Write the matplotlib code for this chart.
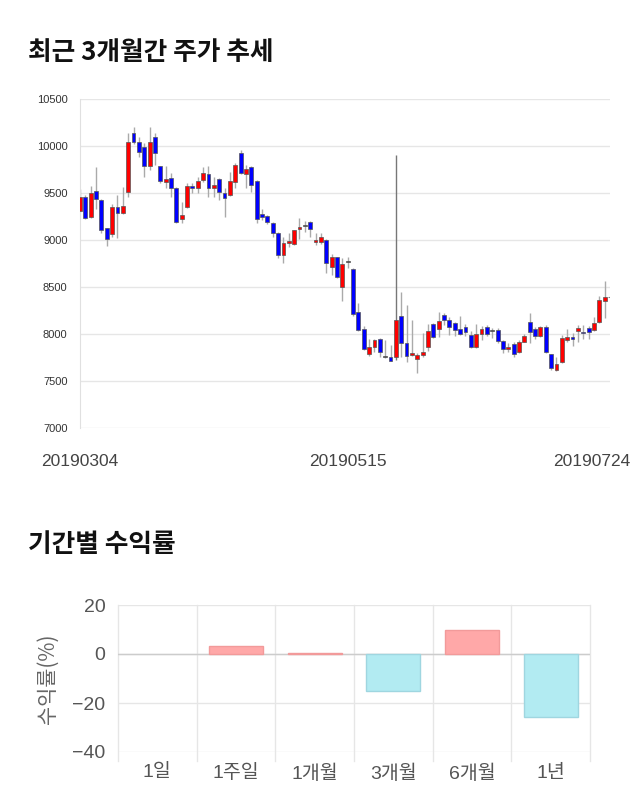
import matplotlib
matplotlib.use("Agg")
import matplotlib.pyplot as plt
import matplotlib.transforms as mtrans

plt.rcParams['font.family'] = ['Noto Sans CJK KR', 'DejaVu Sans']

# candle data, one entry per trading day
opens = [9312, 9454, 9241, 9518, 9425, 9124, 9064, 9348, 9290, 9514,
         10142, 10043, 9986, 9790, 10099, 9787, 9620, 9656, 9550, 9223,
         9354, 9574, 9553, 9641, 9705, 9556, 9646, 9497, 9479, 9620,
         9929, 9702, 9773, 9628, 9273, 9255, 9177, 9078, 8837, 8965,
         8957, 9113, 9149, 9195, 8975, 8975, 9000, 8716, 8816, 8497,
         8765, 8691, 8237, 8049, 7787, 7865, 7947, 7758, 7752, 7752,
         8191, 7908, 7780, 7734, 7776, 7865, 8106, 8053, 8202, 8149,
         8120, 8057, 8071, 7989, 7858, 8000, 8078, 8032, 8039, 7929,
         7837, 7893, 7812, 7918, 8131, 8050, 7979, 8078, 7783, 7617,
         7705, 7936, 7964, 8035, 8025, 8060, 8042, 8131, 8354, 8390]
highs = [9540, 9480, 9570, 9775, 9440, 9130, 9380, 9479, 9567, 10142,
         10199, 10100, 10030, 10199, 10135, 9790, 9787, 9709, 9560, 9408,
         9610, 9610, 9667, 9773, 9787, 9667, 9660, 9550, 9727, 9816,
         9957, 9798, 9790, 9640, 9327, 9270, 9190, 9085, 9029, 9071,
         9110, 9231, 9205, 9200, 9071, 9071, 9010, 8851, 8820, 8805,
         8816, 8700, 8326, 8085, 7947, 7950, 7955, 7936, 7883, 9904,
         8450, 8308, 8149, 7800, 8007, 8106, 8120, 8234, 8220, 8180,
         8130, 8191, 8110, 8030, 8106, 8090, 8095, 8060, 8060, 7935,
         7900, 7920, 7940, 8000, 8220, 8070, 8090, 8100, 7790, 7758,
         7990, 8050, 8010, 8095, 8100, 8080, 8184, 8404, 8567, 8400]
lows = [9300, 9220, 9230, 9330, 9074, 8936, 9029, 9018, 9280, 9454,
        10020, 9886, 9667, 9745, 9798, 9610, 9550, 9461, 9180, 9178,
        9337, 9503, 9497, 9620, 9454, 9454, 9425, 9241, 9470, 9550,
        9700, 9550, 9514, 9184, 9213, 9170, 9029, 8805, 8752, 8929,
        8950, 9007, 9088, 9035, 8947, 8960, 8652, 8627, 8600, 8354,
        8698, 8191, 8030, 7830, 7770, 7812, 7758, 7740, 7716, 7723,
        7760, 7698, 7770, 7588, 7760, 7820, 7960, 7965, 8095, 7989,
        7980, 7990, 7980, 7850, 7850, 7936, 7980, 7954, 7900, 7794,
        7810, 7758, 7800, 7910, 7900, 7950, 7970, 7800, 7620, 7610,
        7690, 7910, 7872, 7920, 7950, 7950, 8030, 8120, 8166, 8380]
closes = [9454, 9231, 9497, 9440, 9106, 9007, 9348, 9290, 9362, 10046,
          10043, 9939, 9790, 10043, 9922, 9628, 9649, 9550, 9195, 9266,
          9574, 9553, 9624, 9713, 9553, 9585, 9514, 9443, 9631, 9798,
          9709, 9752, 9585, 9223, 9248, 9195, 9071, 8837, 8965, 8993,
          9106, 9135, 9149, 9121, 8997, 9029, 8752, 8816, 8603, 8744,
          8765, 8212, 8042, 7837, 7865, 7936, 7812, 7758, 7716, 8149,
          7900, 7769, 7801, 7780, 7808, 8032, 7971, 8138, 8149, 8077,
          8042, 7996, 8025, 7858, 8000, 8050, 8000, 8032, 7929, 7837,
          7865, 7783, 7918, 7979, 8025, 7979, 8071, 7812, 7634, 7677,
          7954, 7971, 7950, 8060, 8007, 8018, 8120, 8361, 8390, 8390]
date_labels = ["20190304", "20190515", "20190724"]
date_index = [0, 50, 99]

# returns per period
periods = ["1일", "1주일", "1개월", "3개월", "6개월", "1년"]
returns = [0.0, 3.4, 0.4, -15.0, 9.8, -25.6]

num_font = ['Liberation Sans', 'Noto Sans CJK KR']

fig = plt.figure(figsize=(6.4, 8.1), dpi=100)

# ---------------- candle chart ----------------
fig.text(28 / 640, 1 - 53 / 810, "최근 3개월간 주가 추세", fontsize=18.5, fontweight='bold',
         va='center', ha='left', color='#111111')

ax = fig.add_axes([80 / 640, 1 - 428 / 810, 530 / 640, 329 / 810])
n = len(opens)
xs = list(range(n))
for i in xs:
    o, h, l, c = opens[i], highs[i], lows[i], closes[i]
    wick_col = '#777777' if i == 59 else '#aaaaaa'
    ax.vlines(i, l, h, color=wick_col, linewidth=1, zorder=2)
    if c > o:
        col = '#ff0000'
    elif c < o:
        col = '#0000ff'
    else:
        col = '#333333'
    bottom = min(o, c)
    height = max(abs(c - o), 8)
    ax.bar(i, height, bottom=bottom, width=0.72, color=col, edgecolor='#555555',
           linewidth=0.5, zorder=3)

ax.set_xlim(0, n - 1)
ax.set_ylim(7000, 10500)
ax.set_yticks([7000, 7500, 8000, 8500, 9000, 9500, 10000, 10500])
ax.tick_params(axis='y', labelsize=8, colors='#333333', length=0, pad=9)
ax.set_xticks(date_index)
ax.set_xticklabels(date_labels)
ax.tick_params(axis='x', labelsize=12.5, colors='#444444', length=0, pad=19)
for t in ax.get_yticklabels() + ax.get_xticklabels():
    t.set_family(num_font)
xt = ax.get_xticklabels()
xt[-1].set_ha('right')
xt[-1].set_transform(xt[-1].get_transform() + mtrans.ScaledTranslation(20 / 100, 0, fig.dpi_scale_trans))
ax.grid(axis='y', color='#e6e6e6', linewidth=1)
for s in ['top', 'right', 'bottom']:
    ax.spines[s].set_visible(False)
ax.spines['left'].set_color('#e0e0e0')
ax.set_axisbelow(True)

# ---------------- returns bar chart ----------------
fig.text(28 / 640, 1 - 544 / 810, "기간별 수익률", fontsize=18.5, fontweight='bold',
         va='center', ha='left', color='#111111')

bx = fig.add_axes([118 / 640, 1 - 752 / 810, 472 / 640, 147 / 810])
for k, v in enumerate(returns):
    if v == 0:
        continue
    fc = '#ffa8a8' if v > 0 else '#b2ebf2'
    ec = '#f29a9a' if v > 0 else '#9fd6e0'
    bx.bar(k, v, width=0.69, color=fc, edgecolor=ec, linewidth=1, zorder=3)
bx.set_xlim(-0.5, len(periods) - 0.5)
bx.set_ylim(-40, 20)
bx.set_yticks([-40, -20, 0, 20])
bx.set_xticks(range(len(periods)))
bx.set_xticklabels(periods)
bx.tick_params(axis='both', labelsize=14, colors='#555555', length=0)
bx.tick_params(axis='x', pad=9)
bx.tick_params(axis='y', pad=9)
for t in bx.get_yticklabels() + bx.get_xticklabels():
    t.set_family(num_font)
bx.set_ylabel("수익률(%)", fontsize=15, color='#666666', labelpad=10)
bx.grid(axis='y', color='#e6e6e6', linewidth=1)
for b in [k - 0.5 for k in range(len(periods) + 1)]:
    bx.axvline(b, ymin=-0.06, ymax=1, color='#e6e6e6', linewidth=1, clip_on=False, zorder=1)
bx.axhline(0, color='#cccccc', linewidth=1, zorder=2)
for s in bx.spines.values():
    s.set_visible(False)
bx.set_axisbelow(True)

fig.savefig("out.png", dpi=100)
